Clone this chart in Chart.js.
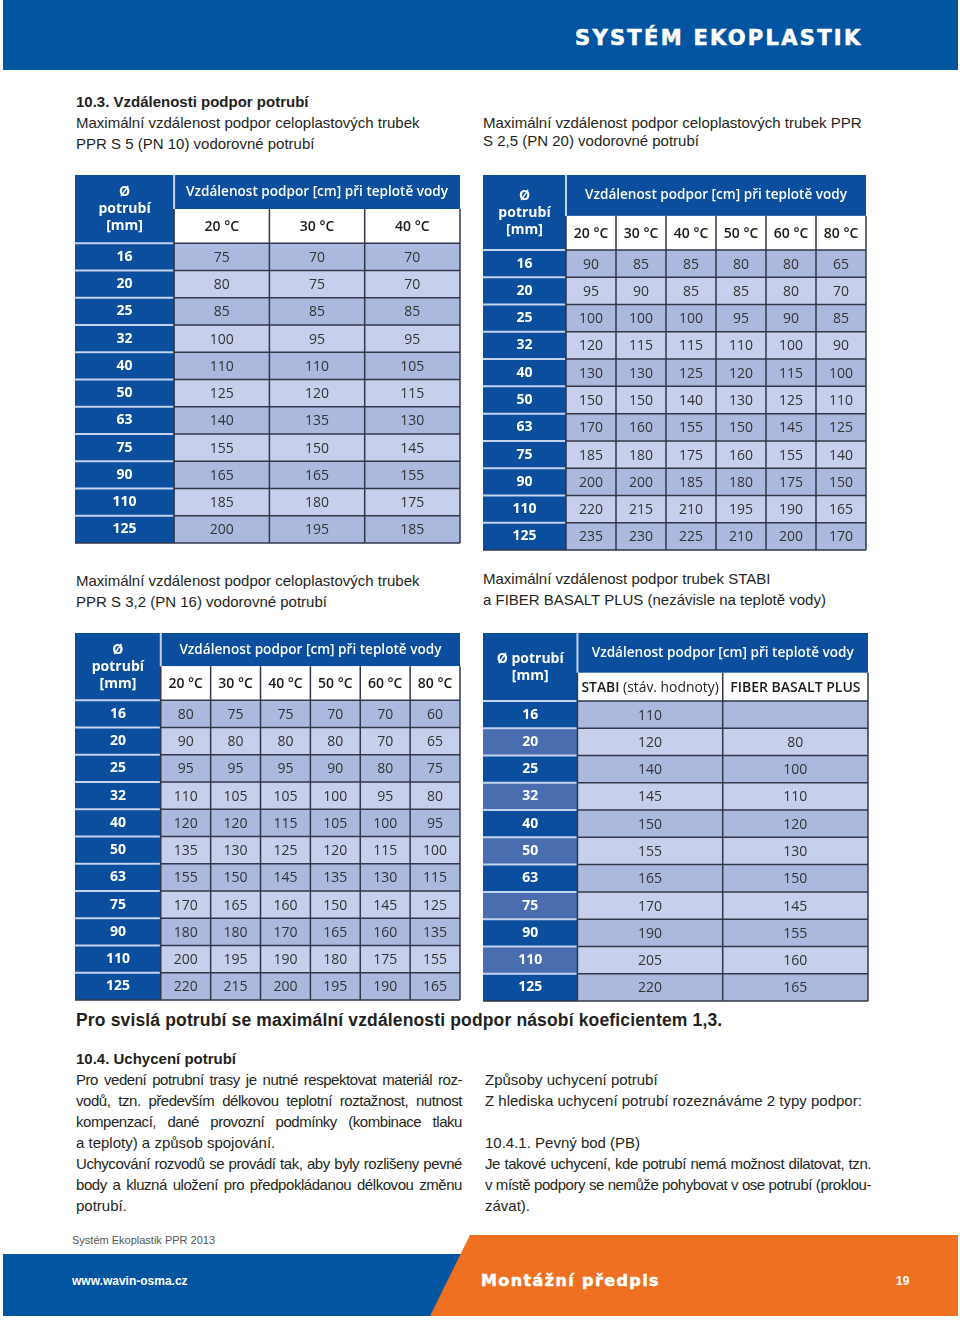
<!DOCTYPE html>
<html lang="cs">
<head>
<meta charset="utf-8">
<title>Vzdálenosti podpor potrubí</title>
<script src="https://cdn.jsdelivr.net/npm/chart.js"></script>
<style>
  body { margin: 0; width: 960px; height: 1323px; position: relative; overflow: hidden; background: #fff;
         font-family: "Liberation Sans", Arial, sans-serif; color: #231f20; }
  .t { position: absolute; white-space: nowrap; font-size: 15px; line-height: 21px; }
  .b { font-weight: bold; }
  .j { text-align: justify; text-align-last: justify; width: 386px; letter-spacing: -0.45px; }
  canvas.tbl { position: absolute; }
  #banner { position: absolute; left: 3px; top: 0; width: 955px; height: 70px; background: #0054a0; }
  #brand { position: absolute; left: 575px; top: 26px; color: #fff; font: bold 21px "DejaVu Sans", sans-serif;
           letter-spacing: 2.3px; white-space: nowrap; -webkit-text-stroke: 0.6px #fff; }
  #fblue { position: absolute; left: 3px; top: 1254px; width: 500px; height: 62px; background: #0054a0; }
  #forange { position: absolute; left: 430px; top: 1235px; width: 528px; height: 81px; background: #f07022;
             clip-path: polygon(40px 0, 100% 0, 100% 100%, 0 100%); }
  .fw { position: absolute; color: #fff; font-weight: bold; white-space: nowrap; }
</style>
</head>
<body>
<div id="banner"></div>
<div id="brand">SYSTÉM EKOPLASTIK</div>

<div class="t b" style="left:76px;top:91px">10.3. Vzdálenosti podpor potrubí</div>
<div class="t" style="left:76px;top:112px">Maximální vzdálenost podpor celoplastových trubek</div>
<div class="t" style="left:76px;top:133px">PPR S 5 (PN 10) vodorovné potrubí</div>
<div class="t" style="left:483px;top:112px">Maximální vzdálenost podpor celoplastových trubek PPR</div>
<div class="t" style="left:483px;top:130px">S 2,5 (PN 20) vodorovné potrubí</div>

<div class="t" style="left:76px;top:570px">Maximální vzdálenost podpor celoplastových trubek</div>
<div class="t" style="left:76px;top:591px">PPR S 3,2 (PN 16) vodorovné potrubí</div>
<div class="t" style="left:483px;top:568px">Maximální vzdálenost podpor trubek STABI</div>
<div class="t" style="left:483px;top:589px">a FIBER BASALT PLUS (nezávisle na teplotě vody)</div>

<canvas class="tbl" id="t1"></canvas>
<canvas class="tbl" id="t2"></canvas>
<canvas class="tbl" id="t3"></canvas>
<canvas class="tbl" id="t4"></canvas>

<div class="t b" style="left:76px;top:1010px;font-size:17.5px;letter-spacing:0.15px">Pro svislá potrubí se maximální vzdálenosti podpor násobí koeficientem 1,3.</div>

<div class="t b" style="left:76px;top:1048px">10.4. Uchycení potrubí</div>
<div class="t j" style="left:76px;top:1069px">Pro vedení potrubní trasy je nutné respektovat materiál roz-</div>
<div class="t j" style="left:76px;top:1090px">vodů, tzn. především délkovou teplotní roztažnost, nutnost</div>
<div class="t j" style="left:76px;top:1111px">kompenzací, dané provozní podmínky (kombinace tlaku</div>
<div class="t" style="left:76px;top:1132px">a teploty) a způsob spojování.</div>
<div class="t j" style="left:76px;top:1153px">Uchycování rozvodů se provádí tak, aby byly rozlišeny pevné</div>
<div class="t j" style="left:76px;top:1174px">body a kluzná uložení pro předpokládanou délkovou změnu</div>
<div class="t" style="left:76px;top:1195px">potrubí.</div>

<div class="t" style="left:485px;top:1069px">Způsoby uchycení potrubí</div>
<div class="t" style="left:485px;top:1090px">Z hlediska uchycení potrubí rozeznáváme 2 typy podpor:</div>
<div class="t" style="left:485px;top:1132px">10.4.1. Pevný bod (PB)</div>
<div class="t j" style="left:485px;top:1153px">Je takové uchycení, kde potrubí nemá možnost dilatovat, tzn.</div>
<div class="t j" style="left:485px;top:1174px">v místě podpory se nemůže pohybovat v ose potrubí (proklou-</div>
<div class="t" style="left:485px;top:1195px">závat).</div>

<div class="t" style="left:72px;top:1232px;font-size:11px;line-height:16px;color:#555">Systém Ekoplastik PPR 2013</div>
<div id="fblue"></div>
<div id="forange"></div>
<div class="fw" style="left:72px;top:1274px;font-size:12px">www.wavin-osma.cz</div>
<div class="fw" style="left:481px;top:1271px;font:bold 16px 'DejaVu Sans',sans-serif;letter-spacing:1.4px;-webkit-text-stroke:0.5px #fff">Montážní předpis</div>
<div class="fw" style="left:896px;top:1274px;font-size:12px">19</div>

<script>
// ---- data ----
const diameters = [16, 20, 25, 32, 40, 50, 63, 75, 90, 110, 125];
const temps3 = ['20 °C', '30 °C', '40 °C'];
const temps6 = ['20 °C', '30 °C', '40 °C', '50 °C', '60 °C', '80 °C'];
const bandTitle = 'Vzdálenost podpor [cm] při teplotě vody';

// PPR S 5 (PN 10)
const s5_20 = [75, 80, 85, 100, 110, 125, 140, 155, 165, 185, 200];
const s5_30 = [70, 75, 85, 95, 110, 120, 135, 150, 165, 180, 195];
const s5_40 = [70, 70, 85, 95, 105, 115, 130, 145, 155, 175, 185];

// PPR S 2,5 (PN 20)
const s25_20 = [90, 95, 100, 120, 130, 150, 170, 185, 200, 220, 235];
const s25_30 = [85, 90, 100, 115, 130, 150, 160, 180, 200, 215, 230];
const s25_40 = [85, 85, 100, 115, 125, 140, 155, 175, 185, 210, 225];
const s25_50 = [80, 85, 95, 110, 120, 130, 150, 160, 180, 195, 210];
const s25_60 = [80, 80, 90, 100, 115, 125, 145, 155, 175, 190, 200];
const s25_80 = [65, 70, 85, 90, 100, 110, 125, 140, 150, 165, 170];

// PPR S 3,2 (PN 16)
const s32_20 = [80, 90, 95, 110, 120, 135, 155, 170, 180, 200, 220];
const s32_30 = [75, 80, 95, 105, 120, 130, 150, 165, 180, 195, 215];
const s32_40 = [75, 80, 95, 105, 115, 125, 145, 160, 170, 190, 200];
const s32_50 = [70, 80, 90, 100, 105, 120, 135, 150, 165, 180, 195];
const s32_60 = [70, 70, 80, 95, 100, 115, 130, 145, 160, 175, 190];
const s32_80 = [60, 65, 75, 80, 95, 100, 115, 125, 135, 155, 165];

// STABI / FIBER BASALT PLUS
const stabi = [110, 120, 140, 145, 150, 155, 165, 170, 190, 205, 220];
const fiber = [null, 80, 100, 110, 120, 130, 150, 145, 155, 160, 165];

// ---- styles ----
const BLUE = '#0a4e9d', BLUE2 = '#4a6db0', ODD = '#acb9df', EVEN = '#c6cfeb';
const GRID = '#33374a', SEP = '#c6d3ee';
const FONT = '"Open Sans", "Noto Sans", sans-serif';

// draws the table cells on the chart's scales
const tableCells = {
  id: 'tableCells',
  beforeDatasetsDraw(chart, args, o) {
    const ctx = chart.ctx, sx = chart.scales.x, sy = chart.scales.y;
    const X = v => sx.getPixelForValue(v), Y = v => sy.getPixelForValue(v);
    const n = o.rows.length, nc = o.cols.length, hw = o.hw, top = o.band + o.sub;
    ctx.save();
    ctx.fillStyle = BLUE;
    ctx.fillRect(X(0), Y(0), X(hw + nc) - X(0), Y(o.band) - Y(0));
    ctx.fillRect(X(0), Y(0), X(hw) - X(0), Y(top) - Y(0));
    ctx.fillStyle = '#fff';
    ctx.fillRect(X(hw), Y(o.band), X(hw + nc) - X(hw), Y(top) - Y(o.band));
    o.rows.forEach((d, i) => {
      const y0 = Y(top + i), y1 = Y(top + i + 1);
      ctx.fillStyle = (o.altHead && i % 2) ? BLUE2 : BLUE;
      ctx.fillRect(X(0), y0, X(hw) - X(0), y1 - y0);
      ctx.fillStyle = i % 2 ? EVEN : ODD;
      ctx.fillRect(X(hw), y0, X(hw + nc) - X(hw), y1 - y0);
    });

    // grid
    ctx.strokeStyle = GRID;
    ctx.lineWidth = 1.5;
    ctx.beginPath();
    for (let i = 0; i <= n; i++) { const y = Y(top + i); ctx.moveTo(X(hw), y); ctx.lineTo(X(hw + nc), y); }
    for (let c = 0; c <= nc; c++) { const x = X(hw + c); ctx.moveTo(x, Y(o.band)); ctx.lineTo(x, Y(top + n)); }
    ctx.moveTo(X(0), Y(top + n)); ctx.lineTo(X(hw), Y(top + n));
    ctx.stroke();
    ctx.strokeStyle = SEP;
    ctx.lineWidth = 2;
    ctx.beginPath();
    for (let i = 0; i < n; i++) { const y = Y(top + i); ctx.moveTo(X(0), y); ctx.lineTo(X(hw) - 1, y); }
    ctx.moveTo(X(hw), Y(0)); ctx.lineTo(X(hw), Y(o.band));
    ctx.stroke();

    // header texts
    ctx.textAlign = 'center';
    ctx.textBaseline = 'middle';
    ctx.fillStyle = '#fff';
    ctx.font = '600 14px ' + FONT;
    ctx.fillText(bandTitle, X(hw + nc / 2), (Y(0) + Y(o.band)) / 2, 262);
    const cy = (Y(0) + Y(top)) / 2 + (o.cornerShift || 0);
    ctx.font = 'bold 14px ' + FONT;
    o.corner.forEach((s, k) => ctx.fillText(s, X(hw / 2), cy + (k - (o.corner.length - 1) / 2) * 17));
    o.rows.forEach((d, i) => ctx.fillText(String(d), X(hw / 2), Y(top + i + 0.5)));

    ctx.fillStyle = '#1b1b1b';
    const sy0 = (Y(o.band) + Y(top)) / 2 + 1;
    o.cols.forEach((lab, c) => {
      const parts = Array.isArray(lab) ? lab : [[lab, 600]];
      let w = 0;
      parts.forEach(p => { ctx.font = p[1] + ' 14px ' + FONT; w += ctx.measureText(p[0]).width; });
      const scale = Math.min(1, (X(1) - X(0) - 8) / w);
      let x = X(hw + c + 0.5) - w * scale / 2;
      ctx.textAlign = 'left';
      parts.forEach(p => {
        ctx.font = p[1] + ' 14px ' + FONT;
        const pw = ctx.measureText(p[0]).width;
        ctx.fillText(p[0], x, sy0, pw * scale);
        x += pw * scale;
      });
      ctx.textAlign = 'center';
    });
    ctx.restore();
  },
  afterDatasetsDraw(chart) {
    const ctx = chart.ctx;
    ctx.save();
    ctx.textAlign = 'center';
    ctx.textBaseline = 'middle';
    ctx.fillStyle = '#333';
    ctx.font = '14px ' + FONT;
    chart.data.datasets.forEach((ds, d) => {
      chart.getDatasetMeta(d).data.forEach((pt, i) => {
        const v = ds.data[i].v;
        if (v == null) return;
        ctx.fillText(String(v), pt.x, pt.y + 1);
      });
    });
    ctx.restore();
  }
};

function makeTable(id, left, top, width, height, o) {
  const cv = document.getElementById(id);
  cv.width = width + 4; cv.height = height + 4;
  cv.style.left = (left - 2) + 'px'; cv.style.top = (top - 2) + 'px';
  cv.style.width = (width + 4) + 'px'; cv.style.height = (height + 4) + 'px';
  const hdr = o.band + o.sub;
  new Chart(cv, {
    type: 'scatter',
    data: {
      datasets: o.series.map((vals, c) => ({
        data: vals.map((v, i) => ({ x: o.hw + c + 0.5, y: hdr + i + 0.5, v: v })),
        pointRadius: 0
      }))
    },
    options: {
      responsive: false, animation: false, events: [],
      layout: { padding: 2 },
      plugins: { legend: { display: false }, tooltip: { enabled: false }, tableCells: o },
      scales: {
        x: { type: 'linear', display: false, min: 0, max: o.hw + o.cols.length },
        y: { type: 'linear', display: false, reverse: true, min: 0, max: hdr + o.rows.length }
      }
    },
    plugins: [tableCells]
  });
}

makeTable('t1', 75, 175, 385, 368, {
  rows: diameters, cols: temps3, series: [s5_20, s5_30, s5_40],
  hw: 1.04, band: 1.25, sub: 1.25, corner: ['Ø', 'potrubí', '[mm]']
});
makeTable('t2', 483, 175, 383, 375, {
  rows: diameters, cols: temps6, series: [s25_20, s25_30, s25_40, s25_50, s25_60, s25_80],
  hw: 1.66, band: 1.5, sub: 1.25, corner: ['Ø', 'potrubí', '[mm]'], cornerShift: 1
});
makeTable('t3', 75, 633, 385, 367, {
  rows: diameters, cols: temps6, series: [s32_20, s32_30, s32_40, s32_50, s32_60, s32_80],
  hw: 1.72, band: 1.22, sub: 1.25, corner: ['Ø', 'potrubí', '[mm]']
});
makeTable('t4', 483, 633, 385, 368, {
  rows: diameters, cols: [[['STABI', 600], [' (stáv. hodnoty)', 400]], 'FIBER BASALT PLUS'],
  series: [stabi, fiber], altHead: true,
  hw: 0.65, band: 1.46, sub: 1.03, corner: ['Ø potrubí', '[mm]'], cornerShift: 1
});
</script>
</body>
</html>
